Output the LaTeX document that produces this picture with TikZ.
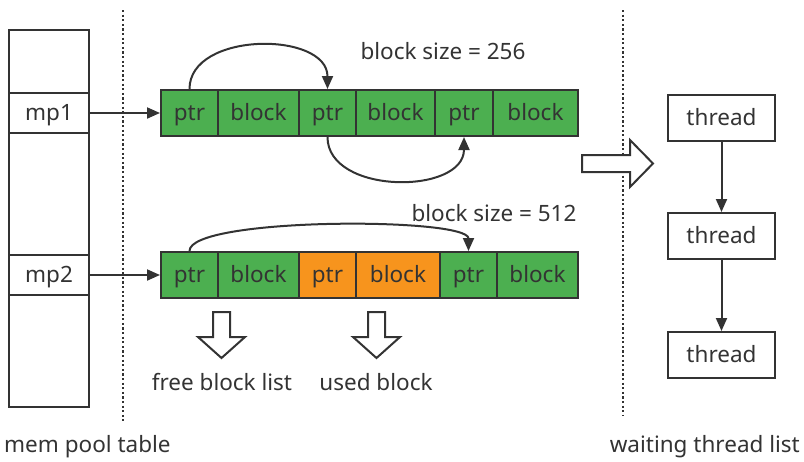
\documentclass[tikz,border=0pt]{standalone}
\usepackage{fontspec}
\setmainfont{Noto Sans}
\usetikzlibrary{arrows.meta}
\definecolor{cellgreen}{HTML}{4CAF50}
\definecolor{cellorange}{HTML}{F7941D}
\definecolor{ink}{HTML}{333333}
\tikzset{
  txt/.style={text=ink, font=\fontsize{22.5}{26}\selectfont, inner sep=0pt},
  boxed/.style={txt, text height=17pt, text depth=3pt},
  cell/.style={boxed, draw=ink, line width=2pt, minimum height=46pt},
  gcell/.style={cell, fill=cellgreen},
  ocell/.style={cell, fill=cellorange},
  tblrow/.style={boxed, draw=ink, line width=2pt, minimum width=80pt, minimum height=40pt},
  thr/.style={boxed, draw=ink, line width=2pt, minimum width=107pt, minimum height=46pt},
  link/.style={draw=ink, line width=2pt, -{Triangle[length=13pt,width=11pt]}},
  sep/.style={draw=ink, line width=2.4pt, dash pattern=on 2.2pt off 2.4pt},
  hollow/.style={draw=ink, line width=2pt, fill=white, line join=miter}
}
\begin{document}
\begin{tikzpicture}[x=1pt,y=-1pt]
\useasboundingbox (0,0) rectangle (804,461);

% memory pool table
\node[draw=ink, line width=2pt, minimum width=80pt, minimum height=377pt, inner sep=0] (table) at (49,218.5) {};
\node[tblrow] (mp1) at (49,113) {mp1};
\node[tblrow] (mp2) at (49,275) {mp2};

% separators
\draw[sep] (123,10) -- (123,421);
\draw[sep] (623,10) -- (623,415);

% pool with block size 256
\node[gcell, minimum width=57pt] (a1) at (189.5,113) {ptr};
\node[gcell, minimum width=81pt] (a2) at (258.5,113) {block};
\node[gcell, minimum width=57pt] (a3) at (327.5,113) {ptr};
\node[gcell, minimum width=79pt] (a4) at (395.5,113) {block};
\node[gcell, minimum width=58pt] (a5) at (464,113) {ptr};
\node[gcell, minimum width=85pt] (a6) at (535.5,113) {block};

% pool with block size 512
\node[gcell, minimum width=57pt] (b1) at (189.5,275) {ptr};
\node[gcell, minimum width=81pt] (b2) at (258.5,275) {block};
\node[ocell, minimum width=57pt] (b3) at (327.5,275) {ptr};
\node[ocell, minimum width=84pt] (b4) at (398,275) {block};
\node[gcell, minimum width=57pt] (b5) at (468.5,275) {ptr};
\node[gcell, minimum width=81pt] (b6) at (537.5,275) {block};

\node[txt] (s256) at (443,51) {block size = 256};
\node[txt] (s512) at (494,213) {block size = 512};

% table entries point to pools
\draw[link] (mp1.east) -- (a1.west);
\draw[link] (mp2.east) -- (b1.west);

% free lists
\draw[link] (a1.north) .. controls +(0,-58) and +(0,-58) .. (a3.north);
\draw[link] (a3.south) .. controls +(0,58) and +(0,58) .. (a5.south);
\draw[link] (b1.north) .. controls +(0,-34) and +(0,-34) .. (b5.north);

% hollow arrows and captions
\draw[hollow] (213,312) -- (230,312) -- (230,337) -- (245,337) -- (221.5,358) -- (198,337) -- (213,337) -- cycle;
\draw[hollow] (368,312) -- (385,312) -- (385,337) -- (400,337) -- (376.5,358) -- (353,337) -- (368,337) -- cycle;
\node[txt] (free) at (222,382) {free block list};
\node[txt] (used) at (376,382) {used block};

\draw[hollow] (582,155) -- (630,155) -- (630,140) -- (653,163.5) -- (630,187) -- (630,172) -- (582,172) -- cycle;

% waiting threads
\node[thr] (t1) at (721.5,118) {thread};
\node[thr] (t2) at (721.5,236) {thread};
\node[thr] (t3) at (721.5,355) {thread};
\draw[link] (t1.south) -- (t2.north);
\draw[link] (t2.south) -- (t3.north);

\node[txt, anchor=west] (lpool) at (4,447) {mem pool table};
\node[txt, anchor=east] (lwait) at (800,447) {waiting thread list};
\end{tikzpicture}
\end{document}
